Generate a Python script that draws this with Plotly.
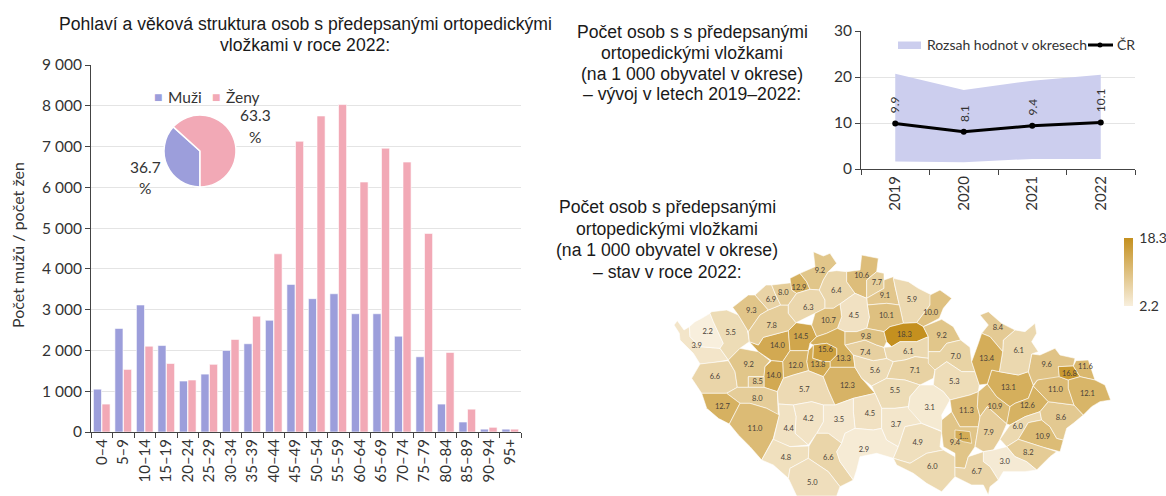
import plotly.graph_objects as go
from plotly.colors import sample_colorscale

# ---------- age structure ----------
AGE_GROUPS = ["0–4","5–9","10–14","15–19","20–24","25–29","30–34","35–39","40–44","45–49",
              "50–54","55–59","60–64","65–69","70–74","75–79","80–84","85–89","90–94","95+"]
MEN = [1050,2540,3115,2120,1250,1420,2000,2165,2740,3620,3270,3390,2900,2900,2350,1845,685,245,70,70]
WOMEN = [685,1535,2105,1680,1275,1660,2270,2840,4370,7130,7750,8030,6130,6960,6620,4870,1950,560,115,70]
SEX_LABELS = ["Muži", "Ženy"]
SEX_SHARES = [36.7, 63.3]
Y_TICKS = [0,1000,2000,3000,4000,5000,6000,7000,8000,9000]
Y_TICK_TEXT = ["0","1 000","2 000","3 000","4 000","5 000","6 000","7 000","8 000","9 000"]

# ---------- trend ----------
YEARS = ["2019","2020","2021","2022"]
CZ_RATE = [9.9, 8.1, 9.4, 10.1]
RANGE_LOW = [1.65, 1.45, 2.2, 2.2]
RANGE_HIGH = [20.7, 17.2, 19.2, 20.5]

# ---------- districts: value and label anchor, map units ----------
VALUES = {"Cheb":3.9,"KarlovyVary":2.2,"Sokolov":5.5,"Tachov":6.6,"PlzenSever":9.2,"Rakovnik":14.0,"Kladno":14.5,
 "Chomutov":9.3,"Louny":7.8,"Most":6.9,"Teplice":8.0,"Usti":12.9,"Decin":9.2,"Litomerice":6.3,"CeskaLipa":6.4,
 "Liberec":10.6,"Jablonec":7.7,"Semily":9.1,"Trutnov":5.9,"Nachod":10.0,"Jicin":10.1,"MladaBoleslav":4.5,
 "Melnik":10.7,"PrahaVychod":13.3,"Praha":15.6,"PrahaZapad":13.8,"Beroun":12.0,"Rokycany":14.0,"PlzenMesto":8.5,
 "PlzenJih":8.0,"Domazlice":12.7,"Klatovy":11.0,"Pribram":5.7,"Benesov":12.3,"KutnaHora":5.6,"Kolin":7.4,
 "Nymburk":9.8,"HradecKralove":18.3,"Rychnov":9.2,"Pardubice":6.1,"Chrudim":7.1,"UstiNO":7.0,"Svitavy":5.3,
 "Zdar":3.1,"HavlBrod":5.5,"Pelhrimov":4.5,"Tabor":3.5,"Pisek":4.2,"Strakonice":4.4,"Prachatice":4.8,"CB":6.6,
 "Krumlov":5.0,"JHradec":2.9,"Jihlava":3.7,"Trebic":4.9,"Znojmo":6.0,"BrnoVenkov":9.4,"BrnoMesto":13.6,
 "Blansko":11.3,"Prostejov":10.9,"Vyskov":7.9,"Olomouc":13.1,"Prerov":12.6,"Kromeriz":6.0,"Zlin":10.9,
 "UhHradiste":8.2,"Hodonin":3.0,"Breclav":6.7,"Vsetin":8.6,"NovyJicin":11.0,"Opava":9.6,"Ostrava":16.8,
 "Karvina":11.6,"Frydek":12.1,"Bruntal":6.1,"Jesenik":8.4,"Sumperk":13.4}
SHORTENED_LABELS = {"BrnoMesto": "1..."}
LABELS_W = {"Cheb":(110,348),"KarlovyVary":(143,307),"Sokolov":(212,309),"Tachov":(165,442),"PlzenSever":(266,406),
 "Rakovnik":(352,348),"Kladno":(423,320),"Chomutov":(274,244),"Louny":(335,289),"Most":(333,211),"Teplice":(370,190),
 "Usti":(417,173),"Decin":(480,123),"Litomerice":(445,234),"CeskaLipa":(529,184),"Liberec":(605,138),"Jablonec":(651,158),
 "Semily":(675,198),"Trutnov":(756,210),"Nachod":(812,250),"Jicin":(679,259),"MladaBoleslav":(582,257),"Melnik":(505,274),
 "PrahaVychod":(550,388),"Praha":(496,360),"PrahaZapad":(474,406),"Beroun":(407,408),"Rokycany":(341,438),"PlzenMesto":(293,457),
 "PlzenJih":(292,507),"Domazlice":(187,530),"Klatovy":(285,596),"Pribram":(433,481),"Benesov":(562,467),"KutnaHora":(645,423),
 "Kolin":(616,370),"Nymburk":(618,320),"HradecKralove":(733,314),"Pardubice":(745,366),"Chrudim":(765,424),"HavlBrod":(705,482),
 "Pelhrimov":(630,552),"Tabor":(537,571),"Pisek":(445,567),"Strakonice":(386,597),"Prachatice":(378,685),"CB":(505,685),
 "Krumlov":(457,758),"JHradec":(612,660),"Jihlava":(708,585),"Trebic":(773,638),"Znojmo":(817,710)}
LABELS_E = {"Rychnov":(125,318),"UstiNO":(167,381),"Svitavy":(163,457),"Zdar":(89,533),"BrnoVenkov":(165,640),"BrnoMesto":(190,620),
 "Blansko":(199,542),"Prostejov":(285,530),"Vyskov":(266,608),"Olomouc":(325,474),"Prerov":(382,528),"Kromeriz":(353,591),
 "Zlin":(428,622),"UhHradiste":(385,670),"Hodonin":(314,697),"Breclav":(230,725),"Vsetin":(483,563),"NovyJicin":(466,480),
 "Opava":(440,406),"Ostrava":(508,431),"Karvina":(556,412),"Frydek":(562,491),"Bruntal":(356,364),"Jesenik":(294,293),"Sumperk":(260,387)}
EAST_OFFSET = 720

# ---------- simplified district boundaries, map units ----------
OUTLINES_W = {
"Cheb":[(42,285),(52,272),(72,300),(88,290),(90,320),(120,350),(180,355),(205,390),(160,398),(120,402),(100,370),(60,330),(58,310)],
"KarlovyVary":[(88,290),(105,275),(125,265),(150,250),(160,275),(190,340),(180,355),(120,350),(90,320)],
"Sokolov":[(150,250),(155,245),(200,240),(235,255),(262,300),(268,335),(240,355),(205,390),(180,355),(190,340),(160,275)],
"Tachov":[(120,402),(160,398),(205,392),(225,425),(232,472),(200,490),(125,490),(95,445)],
"PlzenSever":[(205,390),(240,355),(295,365),(330,392),(315,410),(312,440),(265,440),(265,472),(232,472),(225,425)],
"Rakovnik":[(295,345),(310,322),(385,302),(390,362),(368,395),(335,392),(295,365),(268,335)],
"Kladno":[(385,302),(408,278),(455,285),(470,320),(450,340),(445,362),(390,362)],
"Chomutov":[(218,232),(265,195),(285,195),(325,240),(300,255),(265,305),(235,255)],
"Louny":[(265,305),(300,255),(325,240),(362,225),(385,225),(385,250),(408,278),(385,302),(310,322),(295,345),(268,335)],
"Most":[(285,195),(318,165),(335,165),(345,190),(362,225),(325,240)],
"Teplice":[(335,165),(395,158),(395,180),(410,190),(385,225),(362,225),(345,190)],
"Usti":[(390,145),(412,133),(420,130),(440,155),(450,178),(410,190),(395,180)],
"Decin":[(420,130),(465,110),(460,65),(475,72),(490,78),(510,70),(530,100),(505,125),(490,150),(478,180),(450,178),(440,155)],
"Litomerice":[(385,225),(410,190),(450,178),(478,180),(495,210),(495,235),(465,250),(408,278),(385,250)],
"CeskaLipa":[(490,150),(505,125),(530,122),(560,125),(560,155),(585,190),(540,222),(520,235),(495,235),(495,210),(478,180)],
"Liberec":[(560,125),(600,120),(605,75),(655,85),(650,125),(620,150),(620,205),(585,190),(560,155)],
"Jablonec":[(620,150),(650,125),(672,130),(672,175),(620,205)],
"Semily":[(620,205),(672,175),(672,150),(700,140),(705,170),(718,225),(680,220),(622,225)],
"Trutnov":[(700,145),(745,155),(775,175),(815,195),(810,225),(780,265),(770,278),(730,280),(718,225),(705,170)],
"Nachod":[(810,195),(840,180),(875,205),(850,235),(838,265),(790,290),(770,278),(780,265),(810,225)],
"Jicin":[(622,225),(680,220),(718,225),(730,280),(690,290),(672,305),(620,295),(628,262)],
"MladaBoleslav":[(540,222),(585,190),(620,205),(622,225),(628,262),(620,295),(590,305),(555,305),(532,295),(545,260)],
"Melnik":[(465,250),(495,235),(520,235),(540,222),(545,260),(532,295),(500,310),(470,320),(455,285)],
"PrahaVychod":[(470,320),(500,310),(532,295),(555,305),(555,345),(580,375),(585,412),(510,412),(510,395),(530,375),(530,355),(500,340),(460,345),(450,340)],
"Praha":[(460,345),(500,340),(530,355),(530,375),(510,395),(490,395),(458,385)],
"PrahaZapad":[(445,362),(460,345),(458,385),(490,395),(510,395),(510,412),(490,440),(445,422),(440,395)],
"Beroun":[(390,362),(445,362),(440,395),(445,422),(400,435),(370,445),(368,395)],
"Rokycany":[(315,410),(335,392),(368,395),(370,445),(352,485),(312,472),(312,440)],
"PlzenMesto":[(265,440),(312,440),(312,472),(265,472)],
"PlzenJih":[(200,490),(232,472),(312,472),(352,485),(355,555),(320,535),(270,520),(240,520)],
"Domazlice":[(125,490),(200,490),(240,520),(208,582),(175,565),(140,535)],
"Klatovy":[(240,520),(270,520),(320,535),(358,555),(340,625),(305,690),(270,650),(235,615),(208,582)],
"Pribram":[(352,485),(370,445),(400,435),(445,422),(490,440),(505,480),(525,525),(490,525),(455,515),(400,525),(355,522)],
"Benesov":[(490,440),(510,412),(585,412),(605,445),(645,490),(580,505),(525,525),(505,480)],
"KutnaHora":[(585,412),(580,375),(640,392),(680,385),(700,395),(680,445),(635,468),(605,445)],
"Kolin":[(555,345),(615,330),(650,345),(672,352),(680,385),(640,392),(580,375)],
"Nymburk":[(555,305),(590,305),(620,295),(672,305),(680,335),(672,352),(650,345),(615,330),(555,345)],
"HradecKralove":[(672,305),(690,290),(730,280),(770,278),(790,290),(805,320),(770,335),(720,335),(695,350),(680,335)],
"Pardubice":[(695,350),(720,335),(770,335),(805,320),(805,385),(765,380),(735,390),(700,395),(680,385),(672,352)],
"Chrudim":[(700,395),(735,390),(765,380),(805,385),(825,420),(820,445),(780,465),(735,450),(680,445)],
"HavlBrod":[(635,468),(680,445),(735,450),(780,465),(750,500),(745,530),(705,535),(665,535),(645,490)],
"Pelhrimov":[(580,505),(645,490),(665,535),(665,595),(640,600),(585,595),(580,545)],
"Tabor":[(490,525),(525,525),(580,505),(580,545),(585,595),(555,610),(545,640),(505,610),(470,610),(490,575)],
"Pisek":[(400,525),(455,515),(490,525),(490,575),(470,610),(445,645),(405,610),(408,560)],
"Strakonice":[(355,522),(400,525),(408,560),(405,610),(445,645),(390,650),(340,630),(358,555)],
"Prachatice":[(340,628),(390,650),(447,648),(445,685),(390,715),(385,745),(340,705),(305,690)],
"CB":[(470,610),(505,610),(545,640),(530,665),(540,695),(580,750),(540,770),(505,725),(445,685),(447,648)],
"Krumlov":[(390,715),(445,685),(505,725),(540,770),(530,798),(410,798),(385,745)],
"JHradec":[(555,610),(585,595),(640,600),(665,595),(680,630),(715,650),(700,685),(650,670),(600,680),(590,720),(580,750),(540,695),(530,665),(545,640)],
"Jihlava":[(665,535),(705,535),(745,530),(785,580),(735,590),(715,650),(680,630),(665,595)],
"Trebic":[(735,590),(785,580),(845,605),(840,650),(850,660),(800,670),(750,700),(700,685),(715,650)],
"Znojmo":[(700,685),(750,700),(800,670),(850,660),(885,680),(885,740),(845,785),(800,760),(760,730),(710,705)],
}
OUTLINES_E = {
"Rychnov":[(70,290),(125,268),(160,290),(182,330),(140,340),(120,365),(85,365),(85,320)],
"UstiNO":[(85,365),(120,365),(140,340),(182,330),(210,352),(215,395),(225,425),(185,425),(140,395),(105,420),(85,400)],
"Svitavy":[(105,420),(140,395),(185,425),(225,425),(238,465),(235,485),(210,495),(150,510),(130,485),(100,465)],
"Zdar":[(30,500),(60,465),(100,465),(130,485),(150,510),(125,555),(130,605),(65,580),(25,535)],
"BrnoVenkov":[(125,570),(155,545),(180,590),(235,590),(225,650),(205,680),(195,715),(165,712),(165,670),(130,650),(125,610)],
"BrnoMesto":[(165,600),(210,605),(215,640),(190,635),(165,625)],
"Blansko":[(150,510),(210,495),(235,485),(232,530),(240,560),(235,590),(180,590),(155,545)],
"Prostejov":[(235,485),(262,462),(290,500),(330,530),(325,560),(320,582),(290,555),(262,530),(240,560),(232,530)],
"Vyskov":[(240,560),(262,530),(290,555),(320,582),(300,628),(280,660),(250,665),(225,650),(235,590)],
"Olomouc":[(275,420),(298,425),(355,435),(385,425),(400,465),(385,505),(345,520),(330,530),(290,500),(262,462)],
"Prerov":[(400,468),(445,515),(420,545),(375,560),(330,585),(320,582),(330,530),(345,520),(385,505)],
"Kromeriz":[(330,585),(375,560),(420,545),(425,570),(385,578),(355,628),(320,650),(300,628)],
"Zlin":[(355,628),(385,578),(425,570),(450,590),(470,625),(490,630),(480,665),(430,652)],
"UhHradiste":[(320,650),(355,628),(430,652),(470,665),(450,680),(410,720),(380,695),(345,680)],
"Hodonin":[(250,665),(280,660),(320,650),(345,680),(380,695),(410,720),(375,725),(310,725),(295,750),(270,710),(250,695)],
"Breclav":[(195,715),(205,680),(250,665),(250,695),(270,710),(295,750),(270,770),(265,795),(250,765),(215,765),(165,740),(165,712)],
"Vsetin":[(420,545),(445,515),(522,525),(550,555),(520,580),(500,595),(490,630),(470,625),(450,590),(425,570)],
"NovyJicin":[(412,450),(470,435),(478,440),(505,450),(505,475),(522,525),(445,515),(400,468)],
"Opava":[(395,372),(420,375),(465,355),(480,375),(525,385),(520,408),(475,410),(478,440),(412,450),(400,465),(385,425)],
"Ostrava":[(475,410),(520,408),(540,440),(505,450),(478,440)],
"Karvina":[(528,392),(565,390),(585,450),(540,440),(520,408)],
"Frydek":[(505,450),(540,440),(585,450),(615,465),(632,510),(600,515),(575,530),(550,555),(522,525),(505,475)],
"Bruntal":[(310,330),(345,300),(375,305),(405,280),(410,310),(395,335),(415,365),(395,372),(385,425),(355,435),(298,425),(308,365)],
"Jesenik":[(240,255),(265,245),(305,280),(345,300),(310,330),(308,365),(270,320),(245,310),(265,285)],
"Sumperk":[(245,310),(270,320),(308,365),(298,425),(275,420),(262,462),(238,465),(225,425),(215,395),(235,340)],
}
MAP_SCALE = [[0, "#F8EFDD"], [1, "#C4901F"]]
V_MIN, V_MAX = 2.2, 18.3

W, H = 1166, 496
BLUE, PINK, BAND = "#9C9EDB", "#F2A9B6", "#CCCEEE"
BODY = "Lato, 'Open Sans', sans-serif"
TITLE = "'Liberation Sans', Arial, sans-serif"

fig = go.Figure()
edge = dict(color="rgba(255,255,255,0.6)", width=1)
fig.add_bar(x=AGE_GROUPS, y=MEN, name=SEX_LABELS[0], marker=dict(color=BLUE, line=edge), showlegend=False, xaxis="x", yaxis="y")
fig.add_bar(x=AGE_GROUPS, y=WOMEN, name=SEX_LABELS[1], marker=dict(color=PINK, line=edge), showlegend=False, xaxis="x", yaxis="y")

fig.add_pie(labels=SEX_LABELS, values=SEX_SHARES, sort=False, direction="clockwise", rotation=180,
            marker=dict(colors=[BLUE, PINK], line=dict(color="white", width=1.5)), textinfo="none", showlegend=False,
            domain=dict(x=[164/W, 236/W], y=[1-187/H, 1-115/H]))

fig.add_scatter(x=YEARS, y=RANGE_LOW, mode="lines", line=dict(width=0, color=BAND), showlegend=False, hoverinfo="skip", xaxis="x2", yaxis="y2")
fig.add_scatter(x=YEARS, y=RANGE_HIGH, mode="lines", line=dict(width=0, color=BAND), fill="tonexty", fillcolor=BAND,
                name="Rozsah hodnot v okresech", showlegend=False, xaxis="x2", yaxis="y2")
fig.add_scatter(x=YEARS, y=CZ_RATE, mode="lines+markers", name="ČR", line=dict(color="black", width=3),
                marker=dict(color="black", size=6), showlegend=False, xaxis="x2", yaxis="y2")

def district_colour(v):
    return sample_colorscale(MAP_SCALE, [(v - V_MIN) / (V_MAX - V_MIN)])[0]

for outlines, dx in ((OUTLINES_W, 0), (OUTLINES_E, EAST_OFFSET)):
    for name, pts in outlines.items():
        fig.add_scatter(x=[p[0] + dx for p in pts] + [pts[0][0] + dx], y=[p[1] for p in pts] + [pts[0][1]],
                        mode="lines", fill="toself", fillcolor=district_colour(VALUES[name]),
                        line=dict(color="rgba(255,255,255,0.75)", width=0.8), name=name, showlegend=False,
                        hoverinfo="name", xaxis="x3", yaxis="y3")

names = list(LABELS_W) + list(LABELS_E)
lab_x = [LABELS_W[n][0] for n in LABELS_W] + [LABELS_E[n][0] + EAST_OFFSET for n in LABELS_E]
lab_y = [LABELS_W[n][1] for n in LABELS_W] + [LABELS_E[n][1] for n in LABELS_E]
fig.add_scatter(x=lab_x, y=lab_y, mode="markers+text",
                text=[SHORTENED_LABELS.get(n, f"{VALUES[n]:.1f}") for n in names],
                textposition="middle center", textfont=dict(family=BODY, size=7.5, color="#4a4238"),
                marker=dict(size=1, opacity=0, color=[VALUES[n] for n in names], colorscale=MAP_SCALE, cmin=V_MIN, cmax=V_MAX,
                            showscale=True,
                            colorbar=dict(x=1124/W, xanchor="left", xpad=0, ypad=0, y=1-306/H, yanchor="bottom", len=68/H, thickness=9,
                                          outlinewidth=0, tickvals=[V_MIN, V_MAX], ticktext=["2.2", "18.3"], ticks="outside",
                                          ticklen=4, tickcolor="rgba(0,0,0,0)", tickfont=dict(family=BODY, size=14, color="#333"))),
                showlegend=False, hoverinfo="skip", xaxis="x3", yaxis="y3")

ann = []
def note(x, y, text, size=17.6, family=TITLE, color="#1a1a1a", anchor="center", **kw):
    ann.append(dict(xref="paper", yref="paper", x=x/W, y=1-y/H, text=text, showarrow=False, xanchor=anchor, yanchor="middle",
                    font=dict(family=family, size=size, color=color), **kw))

for y, line in zip((24, 45), ("Pohlaví a věková struktura osob s předepsanými ortopedickými", "vložkami v roce 2022:")):
    note(305, y, line)
for y, line in zip((32, 53, 74, 94), ("Počet osob s s předepsanými", "ortopedickými vložkami", "(na 1 000 obyvatel v okrese)", "– vývoj v letech 2019–2022:")):
    note(692, y, line)
for y, line in zip((207, 229, 250, 272), ("Počet osob s předepsanými", "ortopedickými vložkami", "(na 1 000 obyvatel v okrese)", "– stav v roce 2022:")):
    note(667, y, line)
note(18, 245, "Počet mužů / počet žen", size=16, family=BODY, color="#333", textangle=-90)

note(157.5, 97, f'<span style="color:{BLUE}">■</span>', size=14)
note(184.5, 97, SEX_LABELS[0], size=15.5, family=BODY, color="#333")
note(215.5, 97, f'<span style="color:{PINK}">■</span>', size=14)
note(243, 97, SEX_LABELS[1], size=15.5, family=BODY, color="#333")
note(255, 115, f"{SEX_SHARES[1]}", size=15.5, family=BODY, color="#333")
note(255, 137, "%", size=15.5, family=BODY, color="#333")
note(145, 167, f"{SEX_SHARES[0]}", size=15.5, family=BODY, color="#333")
note(145, 188, "%", size=15.5, family=BODY, color="#333")

note(925, 45, "Rozsah hodnot v okresech", size=14, family=BODY, color="#333", anchor="left")
note(1115, 45, "ČR", size=14, family=BODY, color="#333", anchor="left")

for i, v in enumerate(CZ_RATE):
    ann.append(dict(xref="x2", yref="y2", x=i, y=v, text=f"{v}", showarrow=False, textangle=-90, yanchor="bottom", yshift=8,
                    font=dict(family=BODY, size=12, color="#333")))

legend_shapes = [
    dict(type="rect", xref="paper", yref="paper", x0=898/W, x1=921/W, y0=1-49/H, y1=1-41.5/H, fillcolor=BAND, line=dict(width=0)),
    dict(type="line", xref="paper", yref="paper", x0=1088/W, x1=1113/W, y0=1-45/H, y1=1-45/H, line=dict(color="black", width=3)),
    dict(type="circle", xref="paper", yref="paper", x0=1097.5/W, x1=1102.5/W, y0=1-47.5/H, y1=1-42.5/H, fillcolor="black", line=dict(width=0)),
]

axis_line = dict(showline=True, linecolor="#444", linewidth=1, ticks="outside", ticklen=5, tickcolor="#444")
fig.update_layout(
    width=W, height=H, margin=dict(l=0, r=0, t=0, b=0, autoexpand=False), autosize=False, paper_bgcolor="white", plot_bgcolor="white",
    barmode="group", bargap=0.2, bargroupgap=0.06, annotations=ann, shapes=legend_shapes, showlegend=False,
    xaxis=dict(domain=[91/W, 521/W], type="category", tickson="boundaries", tickangle=-90, showgrid=False,
               tickfont=dict(family=BODY, size=15, color="#333"), **axis_line),
    yaxis=dict(domain=[1-432/H, 1-65/H], range=[0, 9000], tickvals=Y_TICKS, ticktext=Y_TICK_TEXT, gridcolor="#e4e4e4", gridwidth=1.2,
               zeroline=False, tickfont=dict(family=BODY, size=15.5, color="#333"), **axis_line),
    xaxis2=dict(domain=[861/W, 1135/W], type="category", categoryorder="array", categoryarray=YEARS, range=[-0.5, 3.5],
                tickson="boundaries", tickangle=-90, showgrid=False,
                tickfont=dict(family=BODY, size=15, color="#333"), anchor="y2", **axis_line),
    yaxis2=dict(domain=[1-169/H, 1-31/H], range=[0, 30], tickvals=[0,10,20,30], gridcolor="#e4e4e4", zeroline=False,
                tickfont=dict(family=BODY, size=15.5, color="#333"), anchor="x2", **axis_line),
    xaxis3=dict(domain=[660/W, 1], range=[0, 1518], visible=False, anchor="y3"),
    yaxis3=dict(domain=[0, 266/H], range=[798, 0], visible=False, anchor="x3"),
)
fig.write_html("out.html", config={"displayModeBar": False}, post_script="document.body.style.margin='0';")
